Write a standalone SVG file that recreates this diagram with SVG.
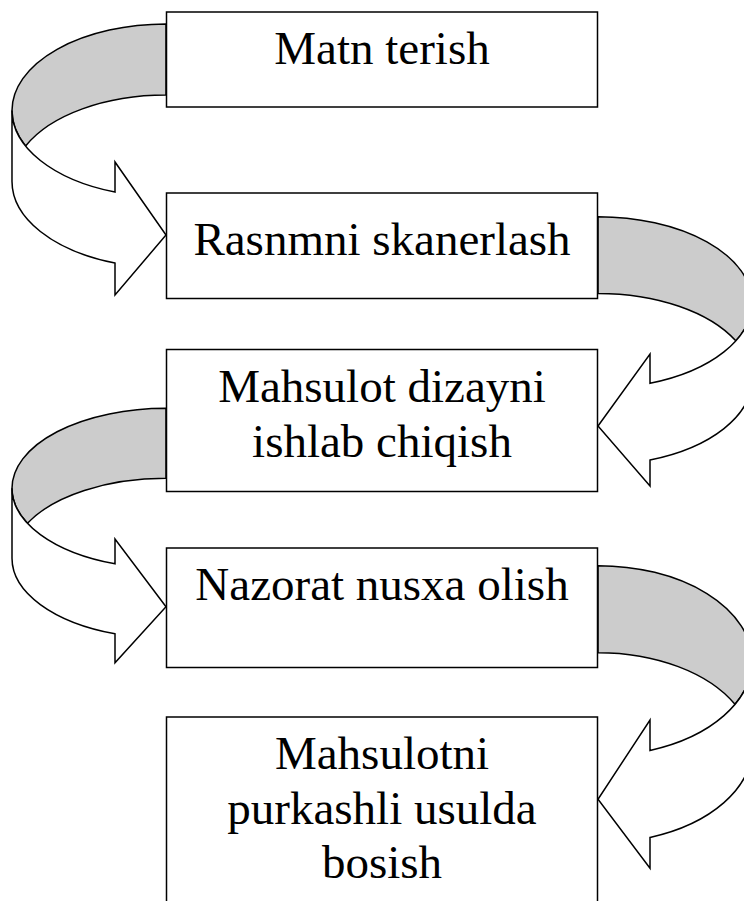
<svg xmlns="http://www.w3.org/2000/svg" width="744" height="901" viewBox="0 0 744 901">
  <style>
    .box { fill: #ffffff; stroke: #000000; stroke-width: 1.5; }
    .back { fill: #cccccc; stroke: #000000; stroke-width: 1.5; stroke-linejoin: round; }
    .front { fill: #ffffff; stroke: #000000; stroke-width: 1.5; stroke-linejoin: miter; }
    .lbl { font-family: "Liberation Serif", "Times New Roman", serif; font-size: 47px; text-anchor: middle; fill: #000000; }
  </style>
  <rect x="0" y="0" width="744" height="901" fill="#ffffff"/>

  <g id="connectors">
    <g id="arrow-1-2">
      <path class="back" d="M166,24 A154,86.5 0 0 0 12,110.5 A154,86.5 0 0 0 25.6,146 A154,86.5 0 0 1 166,95 Z"/>
      <path class="front" d="M12,110.5 A154,86.5 0 0 0 115,192.1 L115,162 L166,235 L115,295 L115,263.1 A154,86.5 0 0 1 12,181.5 Z"/>
    </g>
    <g id="arrow-2-3">
      <path class="back" d="M598,216.7 A154,85.8 0 0 1 752,302.5 A154,85.8 0 0 1 735.8,340.85 A154,85.8 0 0 0 598,293.4 Z"/>
      <path class="front" d="M752,302.5 A154,85.8 0 0 1 650,383.3 L650,354 L598,426 L650,486 L650,460 A154,85.8 0 0 0 752,379.2 Z"/>
    </g>
    <g id="arrow-3-4">
      <path class="back" d="M166,408.3 A154,80 0 0 0 12,488.3 A154,80 0 0 0 27.5,523.3 A154,80 0 0 1 166,478.3 Z"/>
      <path class="front" d="M12,488.3 A154,80 0 0 0 115,563.8 L115,539 L166,606.7 L115,662.7 L115,633.8 A154,80 0 0 1 12,558.3 Z"/>
    </g>
    <g id="arrow-4-5">
      <path class="back" d="M598,565.65 A154,95.2 0 0 1 752,660.85 A154,95.2 0 0 1 735,704.35 A154,95.2 0 0 0 598,652.65 Z"/>
      <path class="front" d="M752,660.85 A154,95.2 0 0 1 650,750.45 L650,720 L598,799.3 L650,868.3 L650,837.45 A154,95.2 0 0 0 752,747.85 Z"/>
    </g>
  </g>

  <g id="node-1">
    <rect class="box" x="166.5" y="12" width="431" height="95"/>
    <text class="lbl" x="382" y="64">Matn terish</text>
  </g>
  <g id="node-2">
    <rect class="box" x="166.5" y="193" width="431" height="105.5"/>
    <text class="lbl" x="382" y="255">Rasnmni skanerlash</text>
  </g>
  <g id="node-3">
    <rect class="box" x="166.5" y="349.5" width="431" height="142"/>
    <text class="lbl" x="382" y="402">Mahsulot dizayni</text>
    <text class="lbl" x="382" y="456.5">ishlab chiqish</text>
  </g>
  <g id="node-4">
    <rect class="box" x="166.5" y="548" width="431" height="119.5"/>
    <text class="lbl" x="382" y="600">Nazorat nusxa olish</text>
  </g>
  <g id="node-5">
    <rect class="box" x="166.5" y="717" width="431" height="200"/>
    <text class="lbl" x="382" y="769">Mahsulotni</text>
    <text class="lbl" x="382" y="824">purkashli usulda</text>
    <text class="lbl" x="382" y="878">bosish</text>
  </g>
</svg>
